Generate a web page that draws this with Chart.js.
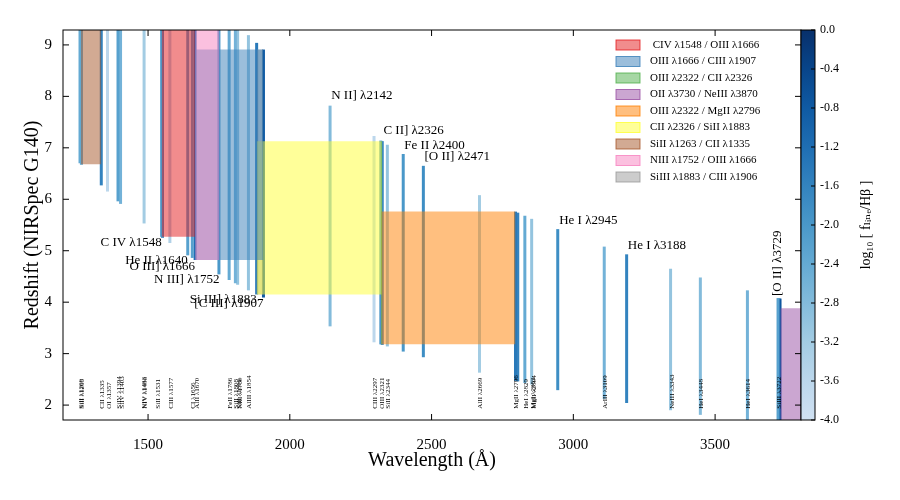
<!DOCTYPE html>
<html>
<head>
<meta charset="UTF-8">
<script src="https://cdn.jsdelivr.net/npm/chart.js"></script>
<style>body{margin:0;background:#fff}</style>
</head>
<body>
<div style="width:900px;height:500px"><canvas id="c"></canvas></div>
<script>
// emission lines: rest wavelength, redshift range covered by G140, log10 f/Hb
const lineWaves = [1260,1265,1335,1357,1394,1403,1486,1548,1551,1577,1640,1656,1666,1750,1786,1808,1816,1854,1883,1907,
  2142,2297,2321,2326,2344,2400,2471,2669,2796,2804,2829,2853,2945,3109,3188,3343,3448,3614,3722,3726,3729];
const lineZmin = [6.70,6.67,6.27,6.15,5.96,5.91,5.53,5.27,5.25,5.15,4.91,4.86,4.82,4.54,4.43,4.37,4.34,4.23,4.15,4.09,
  3.53,3.22,3.18,3.17,3.14,3.04,2.93,2.63,2.47,2.46,2.43,2.40,2.29,2.12,2.04,1.90,1.81,1.68,1.61,1.60,1.60];
const lineZmax = [9.5,9.5,9.5,9.5,9.5,9.5,9.5,9.5,9.5,9.5,9.5,9.5,9.5,9.5,9.5,9.45,9.41,9.19,9.04,8.91,
  7.82,7.23,7.14,7.13,7.06,6.88,6.65,6.08,5.76,5.74,5.68,5.62,5.42,5.08,4.93,4.65,4.48,4.23,4.08,4.07,4.07];
const lineLogRatio = [-2.4,-2.4,-1.6,-3.6,-2.2,-2.6,-3.2,-2.0,-1.8,-3.4,-2.2,-2.2,-1.2,-2.0,-2.4,-2.6,-3.0,-3.0,-1.4,-0.8,
  -2.8,-3.6,-2.0,-1.6,-3.0,-2.0,-1.8,-3.2,-1.4,-1.6,-2.4,-3.0,-1.8,-2.6,-1.6,-3.0,-2.8,-2.6,-2.2,-0.8,-0.6];

// line-ratio regions
const ratioNames = [' CIV λ1548 / OIII λ1666','OIII λ1666 / CIII λ1907','OIII λ2322 / CII λ2326','OII λ3730 / NeIII λ3870',
  'OIII λ2322 / MgII λ2796','CII λ2326 / SiII λ1883','SiII λ1263 / CII λ1335','NIII λ1752 / OIII λ1666','SiIII λ1883 / CIII λ1906'];
const ratioWaveLo = [1548,1666,2322,3730,2322,1883,1263,1666,1883];
const ratioWaveHi = [1666,1907,2326,3870,2796,2326,1335,1752,1906];
const ratioZlo = [5.27,4.82,3.18,1.60,3.18,4.15,6.68,4.82,4.15];
const ratioZhi = [9.5,8.91,7.13,3.88,5.76,7.13,9.5,9.5,8.91];
const ratioColors = ['rgba(228,26,28,0.5)','rgba(55,126,184,0.5)','rgba(77,175,74,0.5)','rgba(152,78,163,0.5)',
  'rgba(255,127,0,0.5)','rgba(255,255,51,0.5)','rgba(166,86,40,0.5)','rgba(247,129,191,0.5)','rgba(153,153,153,0.5)'];
const drawOrder = [7,0,1,2,3,4,5,6,8];

// labels
const bigText = ['C IV λ1548','He II λ1640','O III] λ1666','N III] λ1752','Si III] λ1883','[C III] λ1907',
  'N II] λ2142','C II] λ2326','Fe II λ2400','[O II] λ2471','He I λ2945','He I λ3188'];
const bigX = [1548,1640,1666,1752,1883,1907,2146,2330,2404,2475,2950,3192];
const bigY = [5.10,4.74,4.62,4.37,3.98,3.90,7.95,7.27,6.98,6.76,5.52,5.03];
const bigAlign = ['right','right','right','right','right','right','left','left','left','left','left','left'];
const smallText = ['SiII λ1260','SiII λ1265','CII λ1335','OI λ1357','SiIV λ1394','SiIV λ1403','NIV λ1483','NIV λ1486',
  'SiII λ1531','CIII λ1577','CI λ1656','AlII λ1670','FeII λ1786','SiII λ1808','SiII λ1816','NIII λ1750','AlIII λ1854',
  'CIII λ2297','OIII λ2321','SiII λ2344','AlII λ2669','MgII λ2796','HeI λ2829','MgI λ2853','MgII λ2804',
  'ArIII λ3109','NeIII λ3343','HeI λ3448','HeI λ3614','SiIII λ3722'];
const smallX = [1260,1265,1335,1357,1394,1403,1483,1486,1531,1577,1656,1670,1786,1808,1816,1822,1854,
  2297,2321,2344,2669,2796,2829,2853,2858,3109,3343,3448,3614,3722];
const xTicks = [1500,2000,2500,3000,3500];
const yTicks = [2,3,4,5,6,7,8,9];
const cbarTicks = [0.0,-0.4,-0.8,-1.2,-1.6,-2.0,-2.4,-2.8,-3.2,-3.6,-4.0];

const blues = [[247,251,255],[222,235,247],[198,219,239],[158,202,225],[107,174,214],[66,146,198],[33,113,181],[8,81,156],[8,48,107]];
function bluesAt(t) {
  t = Math.max(0, Math.min(1, t)) * (blues.length - 1);
  const i = Math.min(Math.floor(t), blues.length - 2), f = t - i;
  const c = blues[i].map((v, k) => Math.round(v + (blues[i + 1][k] - v) * f));
  return `rgb(${c[0]},${c[1]},${c[2]})`;
}
function ratioColor(v) { return bluesAt(0.2 + 0.8 * (v + 4) / 4); }

const datasets = [];
drawOrder.forEach(i => {
  datasets.push({
    label: ratioNames[i],
    data: [{x: ratioWaveLo[i], y: ratioZhi[i]}, {x: ratioWaveHi[i], y: ratioZhi[i]}],
    fill: {value: ratioZlo[i]}, backgroundColor: ratioColors[i], borderWidth: 0, pointRadius: 0
  });
});
lineWaves.forEach((w, i) => {
  datasets.push({
    label: 'line' + w,
    data: [{x: w, y: lineZmin[i]}, {x: w, y: lineZmax[i]}],
    borderColor: ratioColor(lineLogRatio[i]), borderWidth: 3, pointRadius: 0, fill: false
  });
});

const SERIF = '"Liberation Serif", "DejaVu Serif", serif';

const extras = {
  id: 'extras',
  afterDraw(chart) {
    const {ctx, chartArea: a, scales: {x, y}} = chart;
    ctx.save();
    ctx.beginPath(); ctx.rect(a.left, a.top, a.right - a.left, a.bottom - a.top); ctx.clip();
    ctx.fillStyle = '#000';
    // big labels
    ctx.font = '13px ' + SERIF; ctx.textBaseline = 'alphabetic';
    bigText.forEach((t, i) => { ctx.textAlign = bigAlign[i]; ctx.fillText(t, x.getPixelForValue(bigX[i]), y.getPixelForValue(bigY[i])); });
    // [O II] 3729 rotated
    ctx.save(); ctx.translate(x.getPixelForValue(3733), y.getPixelForValue(4.12)); ctx.rotate(-Math.PI / 2);
    ctx.textAlign = 'left'; ctx.fillText('[O II] λ3729', 0, 0); ctx.restore();
    // small labels
    ctx.font = '7px ' + SERIF;
    smallText.forEach((t, i) => {
      ctx.save(); ctx.translate(x.getPixelForValue(smallX[i]) + 3, y.getPixelForValue(1.93)); ctx.rotate(-Math.PI / 2);
      ctx.textAlign = 'left'; ctx.fillText(t, 0, 0); ctx.restore();
    });
    ctx.restore();

    // frame and inward ticks
    ctx.save();
    ctx.strokeStyle = '#000'; ctx.lineWidth = 1;
    ctx.strokeRect(a.left, a.top, a.right - a.left, a.bottom - a.top);
    ctx.beginPath();
    xTicks.forEach(v => {
      const px = x.getPixelForValue(v);
      ctx.moveTo(px, a.bottom); ctx.lineTo(px, a.bottom - 6); ctx.moveTo(px, a.top); ctx.lineTo(px, a.top + 6);
    });
    yTicks.forEach(v => {
      const py = y.getPixelForValue(v);
      ctx.moveTo(a.left, py); ctx.lineTo(a.left + 6, py); ctx.moveTo(a.right, py); ctx.lineTo(a.right - 6, py);
    });
    ctx.stroke();

    // axis titles
    ctx.fillStyle = '#000';
    ctx.font = '20px ' + SERIF; ctx.textAlign = 'center';
    ctx.fillText('Wavelength (Å)', (a.left + a.right) / 2, 466);
    ctx.save(); ctx.translate(38, (a.top + a.bottom) / 2); ctx.rotate(-Math.PI / 2);
    ctx.fillText('Redshift (NIRSpec G140)', 0, 0); ctx.restore();

    // legend
    ctx.font = '11px ' + SERIF; ctx.textAlign = 'left'; ctx.textBaseline = 'middle';
    ratioNames.forEach((n, i) => {
      const ly = 45 + i * 16.5;
      ctx.fillStyle = ratioColors[i]; ctx.fillRect(616, ly - 5, 24, 10);
      ctx.strokeStyle = ratioColors[i].replace('0.5)', '0.8)'); ctx.strokeRect(616, ly - 5, 24, 10);
      ctx.fillStyle = '#000'; ctx.fillText(n, 650, ly);
    });

    // colorbar
    const cx = a.right, cw = 14;
    const g = ctx.createLinearGradient(0, a.bottom, 0, a.top);
    for (let k = 0; k <= 10; k++) g.addColorStop(k / 10, bluesAt(0.2 + 0.8 * k / 10));
    ctx.fillStyle = g; ctx.fillRect(cx, a.top, cw, a.bottom - a.top);
    ctx.strokeStyle = '#000'; ctx.strokeRect(cx, a.top, cw, a.bottom - a.top);
    ctx.fillStyle = '#000'; ctx.font = '12px ' + SERIF; ctx.textAlign = 'left';
    cbarTicks.forEach(v => {
      const py = a.bottom - (v + 4) / 4 * (a.bottom - a.top);
      ctx.beginPath(); ctx.moveTo(cx + cw, py); ctx.lineTo(cx + cw - 4, py); ctx.stroke();
      ctx.fillText(v.toFixed(1), cx + cw + 5, py);
    });
    ctx.save(); ctx.translate(866, (a.top + a.bottom) / 2); ctx.rotate(-Math.PI / 2);
    ctx.textAlign = 'center'; ctx.font = '14px ' + SERIF;
    ctx.fillText('log₁₀ [ fₗᵢₙₑ/Hβ ]', 0, 0); ctx.restore();
    ctx.restore();
  }
};

new Chart(document.getElementById('c'), {
  type: 'line',
  data: {datasets},
  options: {
    responsive: true, maintainAspectRatio: false, animation: false,
    layout: {padding: {top: 30, right: 99, left: 0, bottom: 0}},
    plugins: {legend: {display: false}, tooltip: {enabled: false}},
    scales: {
      x: {type: 'linear', min: 1200, max: 3803,
        afterBuildTicks: s => { s.ticks = xTicks.map(v => ({value: v})); },
        afterFit: s => { s.height = 80; },
        grid: {display: false}, border: {display: false},
        ticks: {padding: 8, color: '#000', font: {family: SERIF, size: 15}, callback: v => String(v)}},
      y: {type: 'linear', min: 1.71, max: 9.29,
        afterBuildTicks: s => { s.ticks = yTicks.map(v => ({value: v})); },
        afterFit: s => { s.width = 63; },
        grid: {display: false}, border: {display: false},
        ticks: {color: '#000', font: {family: SERIF, size: 15}, callback: v => String(v)}}
    }
  },
  plugins: [extras]
});
</script>
</body>
</html>
